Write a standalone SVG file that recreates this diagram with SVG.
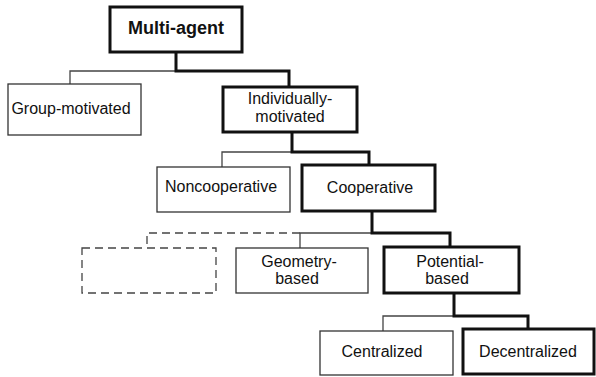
<svg xmlns="http://www.w3.org/2000/svg" width="596" height="377" viewBox="0 0 596 377">
  <style>
    .box { fill: #fff; stroke: #333; stroke-width: 1.3; }
    .box.main { stroke: #111; stroke-width: 3; }
    .box.dash { stroke: #444; stroke-width: 1.3; stroke-dasharray: 8 5; }
    .lbl { font-family: "Liberation Sans", Arial, sans-serif; font-size: 16px; fill: #111; text-anchor: middle; }
    .lbl.big { font-size: 18px; font-weight: bold; }
    .thin { fill: none; stroke: #444; stroke-width: 1.3; }
    .thick { fill: none; stroke: #111; stroke-width: 3; }
    .dashl { fill: none; stroke: #444; stroke-width: 1.3; stroke-dasharray: 8 5; }
  </style>
  <rect width="596" height="377" fill="#fff"/>

  <g id="connectors">
    <!-- Multi-agent -> children -->
    <path class="thin" d="M176 71 H70 V84"/>
    <path class="thick" d="M176 52 V71 H289 V87"/>
    <!-- Individually-motivated -> children -->
    <path class="thin" d="M292 152 H222 V167"/>
    <path class="thick" d="M292 132 V152 H369 V165"/>
    <!-- Cooperative -> children -->
    <path class="thin" d="M372 233 H300 V248"/>
    <path class="dashl" d="M300 233 H147 V248"/>
    <path class="thick" d="M372 211 V233 H450 V247"/>
    <!-- Potential-based -> children -->
    <path class="thin" d="M454 316 H383 V331"/>
    <path class="thick" d="M454 293 V316 H528 V329"/>
  </g>

  <g id="multi-agent">
    <rect class="box main" x="110" y="7" width="132" height="45"/>
    <text class="lbl big" x="176" y="34">Multi-agent</text>
  </g>
  <g id="group-motivated">
    <rect class="box" x="8" y="84" width="133" height="51"/>
    <text class="lbl" x="71" y="114">Group-motivated</text>
  </g>
  <g id="individually-motivated">
    <rect class="box main" x="223" y="87" width="134" height="45"/>
    <text class="lbl" x="290" y="104">Individually-</text>
    <text class="lbl" x="290" y="122">motivated</text>
  </g>
  <g id="noncooperative">
    <rect class="box" x="157" y="167" width="133" height="45"/>
    <text class="lbl" x="221" y="192">Noncooperative</text>
  </g>
  <g id="cooperative">
    <rect class="box main" x="302" y="165" width="133" height="46"/>
    <text class="lbl" x="370" y="193">Cooperative</text>
  </g>
  <g id="unnamed">
    <rect class="box dash" x="82" y="248" width="134" height="45"/>
  </g>
  <g id="geometry-based">
    <rect class="box" x="236" y="248" width="132" height="45"/>
    <text class="lbl" x="299" y="267">Geometry-</text>
    <text class="lbl" x="297" y="284">based</text>
  </g>
  <g id="potential-based">
    <rect class="box main" x="384" y="247" width="135" height="46"/>
    <text class="lbl" x="450" y="267">Potential-</text>
    <text class="lbl" x="447" y="284">based</text>
  </g>
  <g id="centralized">
    <rect class="box" x="320" y="331" width="133" height="44"/>
    <text class="lbl" x="382" y="357">Centralized</text>
  </g>
  <g id="decentralized">
    <rect class="box main" x="463" y="329" width="131" height="45"/>
    <text class="lbl" x="528" y="357">Decentralized</text>
  </g>
</svg>
